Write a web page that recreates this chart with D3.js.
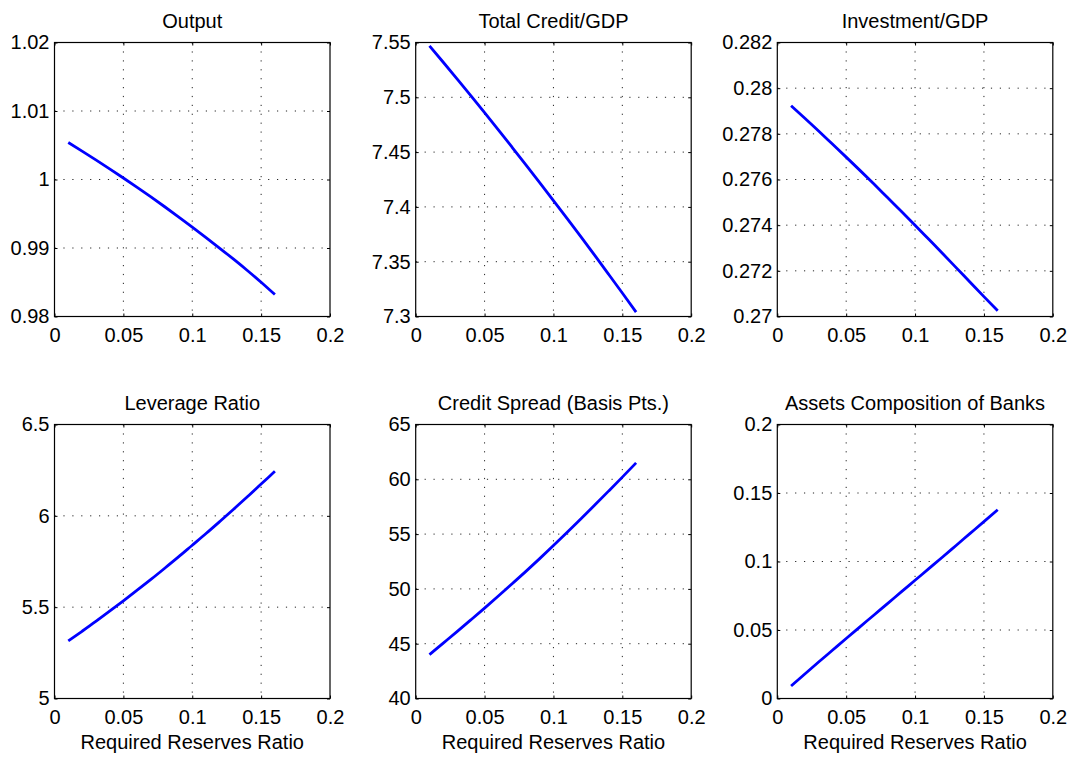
<!DOCTYPE html>
<html><head><meta charset="utf-8">
<script src="https://cdn.jsdelivr.net/npm/d3@7"></script>
<style>
body{margin:0;background:#fff;}
svg text{font-family:"Liberation Sans",Arial,Helvetica,sans-serif;fill:#000;}
</style></head><body>
<svg id="chart" width="1073" height="757"></svg>
<script>
// ---------- data ----------
const reserveRatio = [0.01,0.02,0.03,0.04,0.05,0.06,0.07,0.08,0.09,0.10,0.11,0.12,0.13,0.14,0.15,0.16];
const output = [1.0054,1.00415,1.00287,1.00156,1.00022,0.99885,0.99745,0.99602,0.99455,0.99305,0.99152,0.98996,0.98837,0.98672,0.98500,0.98320];
const creditGDP = [7.5470,7.5320,7.5168,7.5015,7.4860,7.4703,7.4544,7.4384,7.4222,7.4058,7.3893,7.3726,7.3557,7.3386,7.3214,7.3040];
const investmentGDP = [0.27923,0.27868,0.27812,0.27755,0.27698,0.27640,0.27581,0.27521,0.27461,0.27400,0.27338,0.27276,0.27213,0.27150,0.27087,0.27025];
const leverage = [5.315,5.368,5.422,5.478,5.535,5.593,5.652,5.713,5.775,5.839,5.903,5.969,6.036,6.104,6.174,6.244];
const creditSpread = [44.0,45.05,46.1,47.17,48.25,49.35,50.47,51.6,52.76,53.95,55.16,56.4,57.65,58.92,60.2,61.5];
const assetsComposition = [0.0091,0.0179,0.0266,0.0352,0.0438,0.0523,0.0608,0.0693,0.0778,0.0863,0.0948,0.1033,0.1119,0.1205,0.1291,0.1378];

const titles = ["Output","Total Credit/GDP","Investment/GDP","Leverage Ratio","Credit Spread (Basis Pts.)","Assets Composition of Banks"];
const xLabel = "Required Reserves Ratio";
const xDomain = [0, 0.2];
const xTicks = [0, 0.05, 0.1, 0.15, 0.2];
const xTickLabels = ["0","0.05","0.1","0.15","0.2"];
const yDomains = [[0.98,1.02],[7.3,7.55],[0.27,0.282],[5,6.5],[40,65],[0,0.2]];
const yTicks = [
  [0.98,0.99,1,1.01,1.02],
  [7.3,7.35,7.4,7.45,7.5,7.55],
  [0.27,0.272,0.274,0.276,0.278,0.28,0.282],
  [5,5.5,6,6.5],
  [40,45,50,55,60,65],
  [0,0.05,0.1,0.15,0.2]
];
const yTickLabels = [
  ["0.98","0.99","1","1.01","1.02"],
  ["7.3","7.35","7.4","7.45","7.5","7.55"],
  ["0.27","0.272","0.274","0.276","0.278","0.28","0.282"],
  ["5","5.5","6","6.5"],
  ["40","45","50","55","60","65"],
  ["0","0.05","0.1","0.15","0.2"]
];
const seriesList = [output, creditGDP, investmentGDP, leverage, creditSpread, assetsComposition];

// ---------- layout ----------
const colLeft = [54.5, 415.7, 777.3];
const rowTop = [42.5, 424.5];
const pw = 275.5, ph = 274;
const fontSize = 20;

const svg = d3.select("#chart");
svg.append("rect").attr("width",1073).attr("height",757).attr("fill","#fff");

seriesList.forEach((series, i) => {
  const r = Math.floor(i / 3), c = i % 3;
  const g = svg.append("g").attr("transform", `translate(${colLeft[c]},${rowTop[r]})`);
  const x = d3.scaleLinear().domain(xDomain).range([0, pw]);
  const y = d3.scaleLinear().domain(yDomains[i]).range([ph, 0]);

  // grid
  const grid = g.append("g").attr("stroke","#000").attr("stroke-width",1)
    .attr("stroke-dasharray","1.2,7.7").attr("opacity",0.85);
  xTicks.slice(1,-1).forEach(t => {
    grid.append("line").attr("x1",x(t)).attr("x2",x(t)).attr("y1",0).attr("y2",ph);
  });
  yTicks[i].slice(1,-1).forEach(t => {
    grid.append("line").attr("x1",0).attr("x2",pw).attr("y1",y(t)).attr("y2",y(t));
  });

  // axes with inward ticks
  const xb = d3.axisBottom(x).tickValues(xTicks).tickFormat((d,k)=>xTickLabels[k])
    .tickSizeInner(-3).tickSizeOuter(0).tickPadding(11);
  const yl = d3.axisLeft(y).tickValues(yTicks[i]).tickFormat((d,k)=>yTickLabels[i][k])
    .tickSizeInner(-3).tickSizeOuter(0).tickPadding(5);
  const xt = d3.axisTop(x).tickValues(xTicks).tickFormat("").tickSizeInner(-3).tickSizeOuter(0);
  const yr = d3.axisRight(y).tickValues(yTicks[i]).tickFormat("").tickSizeInner(-3).tickSizeOuter(0);

  const styleAxis = sel => {
    sel.select(".domain").remove();
    sel.selectAll("line").attr("stroke","#000");
    sel.selectAll("text").attr("font-size",fontSize).attr("font-family",null);
  };
  g.append("g").attr("transform",`translate(0,${ph})`).call(xb).call(styleAxis);
  g.append("g").call(yl).call(styleAxis);
  g.append("g").call(xt).call(styleAxis);
  g.append("g").attr("transform",`translate(${pw},0)`).call(yr).call(styleAxis);

  // frame
  g.append("rect").attr("x",0).attr("y",0).attr("width",pw).attr("height",ph)
    .attr("fill","none").attr("stroke","#000").attr("stroke-width",1.2);

  // line
  const line = d3.line().curve(d3.curveMonotoneX).x((d,k)=>x(reserveRatio[k])).y(d=>y(d));
  g.append("path").datum(series).attr("d",line)
    .attr("fill","none").attr("stroke","#0000ff").attr("stroke-width",2.8)
    .attr("stroke-linejoin","round");

  // title
  g.append("text").attr("x",pw/2).attr("y",-15).attr("text-anchor","middle")
    .attr("font-size",fontSize).text(titles[i]);

  // x label on bottom row
  if (r === 1) {
    g.append("text").attr("x",pw/2).attr("y",ph+50).attr("text-anchor","middle")
      .attr("font-size",fontSize).text(xLabel);
  }
});
</script>
</body></html>
